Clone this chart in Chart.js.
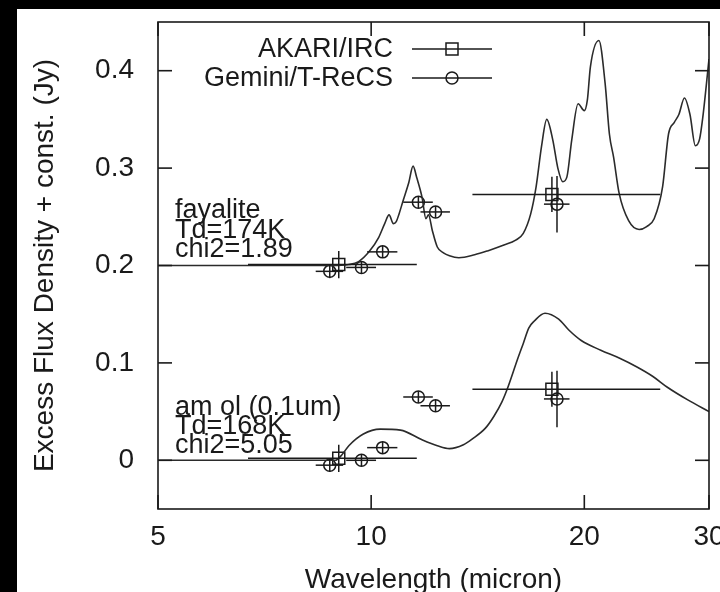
<!DOCTYPE html>
<html><head><meta charset="utf-8">
<script src="https://cdn.jsdelivr.net/npm/chart.js@4"></script>
<style>
html,body{margin:0;padding:0;background:#000;overflow:hidden;width:720px;height:592px;}
#wrap{position:absolute;left:17px;top:9px;width:703px;height:600px;background:#fff;}
canvas{display:block;}
</style></head><body>
<div id="wrap"><canvas id="c" width="703" height="600"></canvas></div>
<script>
// ---- tick labels ----
const xTicks = [5, 10, 20, 30];
const yTicks = [0, 0.1, 0.2, 0.3, 0.4];

// ---- model curves ----
const fayaliteWave = [5, 6, 7, 8, 8.8, 9.3, 9.6, 9.93, 10.25, 10.45, 10.6, 10.75, 10.85, 10.95, 11.1, 11.3, 11.46, 11.6, 11.8, 11.95, 12.05, 12.2, 12.4, 12.65, 12.9, 13.3, 14.0, 14.6, 15.4, 16.0, 16.4, 16.8, 17.1, 17.4, 17.7, 18.05, 18.35, 18.65, 18.9, 19.2, 19.6, 20.0, 20.2, 20.4, 20.97, 21.4, 21.7, 22.0, 22.4, 23.1, 23.9, 24.5, 25.1, 25.8, 26.3, 26.8, 27.2, 27.7, 28.2, 28.7, 29.1, 29.4, 30];
const fayaliteModel = [0.200, 0.200, 0.200, 0.200, 0.200, 0.201, 0.204, 0.214, 0.229, 0.243, 0.252, 0.243, 0.245, 0.253, 0.267, 0.285, 0.302, 0.290, 0.270, 0.248, 0.252, 0.236, 0.219, 0.213, 0.210, 0.208, 0.211, 0.215, 0.221, 0.226, 0.233, 0.253, 0.281, 0.322, 0.350, 0.329, 0.300, 0.286, 0.291, 0.329, 0.366, 0.359, 0.370, 0.404, 0.431, 0.387, 0.335, 0.311, 0.274, 0.246, 0.237, 0.240, 0.248, 0.281, 0.335, 0.347, 0.355, 0.372, 0.355, 0.323, 0.330, 0.352, 0.412];

const amolWave = [5, 6, 7, 8, 8.9, 9.1, 9.3, 9.75, 10.3, 11.0, 11.8, 12.4, 12.9, 13.5, 13.9, 14.5, 14.9, 15.3, 15.6, 16.1, 16.4, 16.7, 17.0, 17.6, 18.4, 19.0, 19.8, 21.1, 22.4, 23.7, 25.0, 26.2, 28.0, 30];
const amolModel = [0.000, 0.000, 0.000, 0.000, 0.000, 0.006, 0.015, 0.027, 0.032, 0.031, 0.021, 0.015, 0.012, 0.016, 0.022, 0.033, 0.045, 0.060, 0.075, 0.104, 0.120, 0.136, 0.143, 0.151, 0.145, 0.134, 0.123, 0.113, 0.105, 0.096, 0.086, 0.075, 0.062, 0.050];

// ---- AKARI/IRC photometry ----
const akariWave = [9.0, 18.0];
const akariBandLo = [6.7, 13.9];
const akariBandHi = [11.6, 25.6];
const akariFayalite = [0.201, 0.273];
const akariAmol = [0.002, 0.073];
const akariErr = [0.014, 0.018];

// ---- Gemini/T-ReCS photometry ----
const geminiWave = [8.74, 9.69, 10.38, 11.66, 12.33, 18.30];
const geminiHalfWidth = [0.39, 0.47, 0.51, 0.56, 0.59, 0.76];
const geminiFayalite = [0.194, 0.198, 0.214, 0.265, 0.255, 0.263];
const geminiAmol = [-0.005, 0.000, 0.013, 0.065, 0.056, 0.063];
const geminiErr = [0.007, 0.006, 0.006, 0.006, 0.006, 0.029];

// ---- annotations ----
const fayaliteLabel = ['fayalite', 'Td=174K', 'chi2=1.89'];
const amolLabel = ['am ol (0.1um)', 'Td=168K', 'chi2=5.05'];
const legendLabels = ['AKARI/IRC', 'Gemini/T-ReCS'];

const FONT = "'Liberation Sans', Arial, Helvetica, sans-serif";
const INK = '#1a1a1a';
Chart.defaults.font.family = FONT;
Chart.defaults.color = INK;

const pts = (xs, ys) => xs.map((x, i) => ({x: x, y: ys[i]}));

const overlay = {
  id: 'overlay',
  afterDatasetsDraw(chart) {
    const {ctx, chartArea: a, scales: {x, y}} = chart;
    ctx.save();
    ctx.strokeStyle = INK;
    ctx.fillStyle = INK;
    ctx.lineWidth = 1.5;
    const seg = (x1, y1, x2, y2) => { ctx.beginPath(); ctx.moveTo(x1, y1); ctx.lineTo(x2, y2); ctx.stroke(); };
    // error bars
    const bars = (w, lo, hi, v, e) => {
      const px = x.getPixelForValue(w), py = y.getPixelForValue(v);
      seg(x.getPixelForValue(lo), py, x.getPixelForValue(hi), py);
      seg(px, y.getPixelForValue(v - e), px, y.getPixelForValue(v + e));
    };
    akariWave.forEach((w, i) => {
      bars(w, akariBandLo[i], akariBandHi[i], akariFayalite[i], akariErr[i]);
      bars(w, akariBandLo[i], akariBandHi[i], akariAmol[i], akariErr[i]);
    });
    geminiWave.forEach((w, i) => {
      bars(w, w - geminiHalfWidth[i], w + geminiHalfWidth[i], geminiFayalite[i], geminiErr[i]);
      bars(w, w - geminiHalfWidth[i], w + geminiHalfWidth[i], geminiAmol[i], geminiErr[i]);
    });
    // frame
    ctx.lineWidth = 1.6;
    ctx.strokeRect(a.left, a.top, a.right - a.left, a.bottom - a.top);
    const TL = 14;
    yTicks.forEach(v => {
      const py = y.getPixelForValue(v);
      seg(a.left, py, a.left + TL, py);
      seg(a.right, py, a.right - TL, py);
    });
    xTicks.forEach(v => {
      const px = x.getPixelForValue(v);
      seg(px, a.bottom, px, a.bottom - TL);
      seg(px, a.top, px, a.top + TL);
    });
    // legend
    ctx.font = '27px ' + FONT;
    ctx.textAlign = 'right';
    ctx.textBaseline = 'middle';
    const lx = a.left + 235, ly0 = a.top + 27, dy = 29;
    legendLabels.forEach((t, i) => {
      const ly = ly0 + i * dy;
      ctx.fillText(t, lx, ly + 1);
      ctx.lineWidth = 1.5;
      seg(lx + 19, ly, lx + 99, ly);
      ctx.beginPath();
      if (i === 0) ctx.rect(lx + 53, ly - 6, 12, 12);
      else ctx.arc(lx + 59, ly, 6, 0, Math.PI * 2);
      ctx.stroke();
    });
    // model annotations
    ctx.textAlign = 'left';
    ctx.textBaseline = 'alphabetic';
    const tx = a.left + 17;
    fayaliteLabel.forEach((t, i) => ctx.fillText(t, tx, a.top + 196 + i * 19.5));
    amolLabel.forEach((t, i) => ctx.fillText(t, tx, a.top + 393 + i * 19));
    ctx.restore();
  }
};

new Chart(document.getElementById('c'), {
  type: 'scatter',
  data: {
    datasets: [
      {label: 'fayalite', data: pts(fayaliteWave, fayaliteModel), showLine: true, pointRadius: 0,
       borderColor: '#2b2b2b', borderWidth: 1.6, cubicInterpolationMode: 'monotone', fill: false},
      {label: 'am ol (0.1um)', data: pts(amolWave, amolModel), showLine: true, pointRadius: 0,
       borderColor: '#2b2b2b', borderWidth: 1.6, cubicInterpolationMode: 'monotone', fill: false},
      {label: 'AKARI/IRC', data: pts(akariWave, akariFayalite).concat(pts(akariWave, akariAmol)),
       pointStyle: 'rect', pointRadius: 8.5, borderColor: INK, borderWidth: 1.5,
       backgroundColor: 'rgba(0,0,0,0)', showLine: false},
      {label: 'Gemini/T-ReCS', data: pts(geminiWave, geminiFayalite).concat(pts(geminiWave, geminiAmol)),
       pointStyle: 'circle', pointRadius: 6, borderColor: INK, borderWidth: 1.5,
       backgroundColor: 'rgba(0,0,0,0)', showLine: false}
    ]
  },
  options: {
    responsive: false,
    animation: false,
    layout: {padding: {top: 13, right: 11, left: 0, bottom: 0}},
    plugins: {legend: {display: false}, tooltip: {enabled: false}},
    scales: {
      x: {
        type: 'logarithmic', min: 5, max: 30, position: 'bottom',
        grid: {display: false}, border: {display: false},
        afterBuildTicks: s => { s.ticks = xTicks.map(v => ({value: v})); },
        afterFit: s => { s.height = 100; s.paddingLeft = 0; s.paddingRight = 0; },
        ticks: {callback: v => String(v), font: {size: 28}, color: INK, padding: 3,
                maxRotation: 0, minRotation: 0, autoSkip: false},
        title: {display: true, text: 'Wavelength (micron)', font: {size: 28}, color: INK,
                padding: {top: 0, bottom: 12}}
      },
      y: {
        type: 'linear', min: -0.05, max: 0.45, position: 'left',
        grid: {display: false}, border: {display: false},
        afterBuildTicks: s => { s.ticks = yTicks.map(v => ({value: v})); },
        afterFit: s => { s.width = 141; s.paddingTop = 0; s.paddingBottom = 0; },
        ticks: {callback: v => String(v), font: {size: 28}, color: INK, padding: 16},
        title: {display: true, text: 'Excess Flux Density + const. (Jy)', font: {size: 28}, color: INK,
                padding: {top: 11, bottom: 0}}
      }
    }
  },
  plugins: [overlay]
});
</script>
</body></html>
